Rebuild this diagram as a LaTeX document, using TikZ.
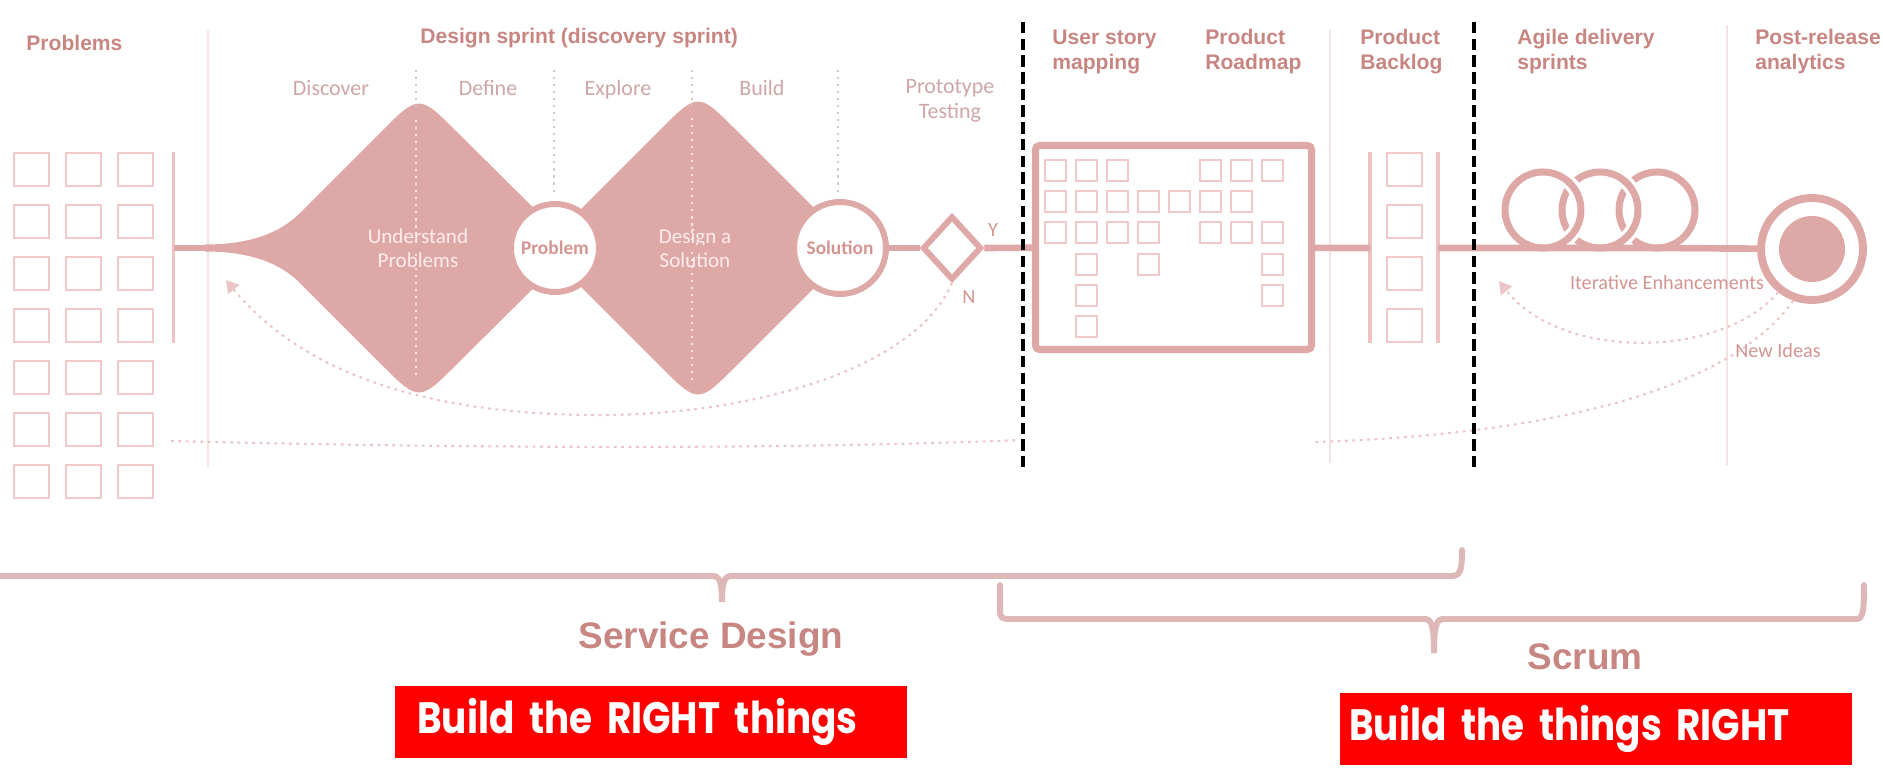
\documentclass[tikz,border=0pt]{standalone}
\usepackage{fontspec}
\setmainfont{Liberation Sans}
\newfontfamily\softfont{Carlito}
\newfontfamily\gothicfont[FakeStretch=0.85]{Poppins}
\usetikzlibrary{arrows.meta,shapes.geometric}

\definecolor{rose}{RGB}{222,168,166}
\definecolor{headtxt}{RGB}{199,134,130}
\definecolor{phasetxt}{RGB}{206,166,166}
\definecolor{ringtxt}{RGB}{212,148,146}
\definecolor{innertxt}{RGB}{252,236,236}
\definecolor{cardline}{RGB}{243,200,200}
\definecolor{faintline}{RGB}{246,228,228}
\definecolor{dotline}{RGB}{236,198,198}
\definecolor{sepline}{RGB}{212,198,198}
\definecolor{braceline}{RGB}{222,184,182}
\definecolor{tagred}{RGB}{255,0,0}

\tikzset{
  heading/.style={anchor=base west,align=left,inner sep=0pt,text=headtxt,
    font=\bfseries\fontsize{12}{14.2}\selectfont},
  phase/.style={anchor=base,inner sep=0pt,text=phasetxt,
    font=\softfont\fontsize{12.5}{14.2}\selectfont},
  shapetext/.style={align=center,inner sep=0pt,text=innertxt,
    font=\softfont\fontsize{12}{13.5}\selectfont},
  ring/.style={circle,draw=rose,line width=3.4pt,fill=white,inner sep=0pt,
    text=ringtxt,font=\softfont\bfseries\fontsize{11}{13}\selectfont},
  gate/.style={diamond,draw=rose,line width=3.4pt,fill=white,inner sep=0pt,
    minimum width=11.8mm,minimum height=12.8mm},
  mapbox/.style={draw=rose,line width=4pt,fill=white,rounded corners=0.8mm,
    minimum width=55.2mm,minimum height=40.8mm,inner sep=0pt},
  target/.style={circle,draw=rose,line width=4.5pt,fill=white,inner sep=0pt,
    minimum size=20.4mm},
  mainline/.style={draw=rose,line width=3.8pt},
  coil/.style={draw=rose,line width=4pt},
  halo/.style={draw=white,line width=8pt},
  card/.style={draw=cardline,line width=1.1pt},
  bar/.style={draw=cardline!80!rose,line width=2pt},
  faint/.style={draw=faintline,line width=1.4pt},
  phasesep/.style={draw=sepline,line width=1.2pt,dash pattern=on 1.2pt off 2.8pt},
  insep/.style={draw=white!70!rose,line width=1.2pt,dash pattern=on 1.2pt off 2.8pt},
  loopback/.style={draw=dotline,line width=1.2pt,dash pattern=on 1.6pt off 2.6pt},
  tipped/.style={-{Triangle[length=7pt,width=8pt,fill=dotline]}},
  cutline/.style={draw=black,line width=2pt,dash pattern=on 6.5pt off 3pt},
  brace/.style={draw=braceline,line width=3.4pt,line cap=round},
  bigtitle/.style={anchor=base,inner sep=0pt,text=headtxt,
    font=\bfseries\fontsize{21}{24}\selectfont},
  note/.style={inner sep=0pt,text=ringtxt,font=\softfont\fontsize{11.5}{13}\selectfont},
  redtag/.style={anchor=north west,fill=tagred,text=white,align=left,inner ysep=0pt,
    minimum height=14.4mm,font=\gothicfont\bfseries\fontsize{25}{28}\selectfont}
}

\begin{document}
\begin{tikzpicture}[x=0.2mm,y=-0.2mm]
      \useasboundingbox (0,0) rectangle (1883,767);

      % column rules
      \draw[faint] (208,30)--(208,467) (1330,30)--(1330,463) (1727,25)--(1727,465);

      % problems
      \foreach \c in {0,1,2}
        \foreach \r in {0,...,6}
          \draw[card] ({14+52*\c},{153+52*\r}) rectangle +(35,33);
      \draw[bar] (173.5,152)--(173.5,343);
      \coordinate (start) at (173.5,248);

      % double diamond
      \fill[rose] (205,244.5) .. controls (250,244.5) and (280,233) .. (300,213) -- (381,132)
        .. controls (419,94) .. (457,132) -- (574,248) -- (457,364)
        .. controls (419,402) .. (381,364) -- (300,283)
        .. controls (280,263) and (250,251.5) .. (205,251.5) -- cycle;
      \fill[rose] (542,248) -- (660,130) .. controls (698,92) .. (736,130) -- (854,248)
        -- (736,366) .. controls (698,404) .. (660,366) -- cycle;
      \draw[phasesep] (416,70)--(416,108) (554,70)--(554,196) (692,70)--(692,106) (838,70)--(838,196);
      \draw[insep] (416,120)--(416,380) (692,118)--(692,382);

      \node[phase] (discover) at (331,95) {Discover};
      \node[phase] (define) at (488,95) {Define};
      \node[phase] (explore) at (618,95) {Explore};
      \node[phase] (build) at (762,95) {Build};
      \node[phase,anchor=center,align=center] (prototype) at (950,101) {Prototype\\Testing};
      \node[shapetext] (understand) at (418,248) {Understand\\Problems};
      \node[shapetext] (designsol) at (695,248) {Design a\\Solution};

      \node[ring,minimum size=17.6mm] (problem) at (555,248) {Problem};
      \node[ring,minimum size=18.4mm] (solution) at (840,248) {Solution};
      \node[gate] (test) at (952,248) {};
      \node[note] (yes) at (993,230) {Y};
      \node[note] (no) at (969,297) {N};

      \draw[mainline] (start) -- (problem);
      \draw[mainline] (problem) -- (solution);
      \draw[mainline] (solution) -- (test);

      % story map
      \node[mapbox] (map) at (1173.5,247.5) {};
      \draw[mainline] (test) -- (map);
      \foreach \c/\r in {1/1,2/1,3/1,6/1,7/1,8/1,
                         1/2,2/2,3/2,4/2,5/2,6/2,7/2,
                         1/3,2/3,3/3,4/3,6/3,7/3,8/3,
                         2/4,4/4,8/4,2/5,8/5,2/6}
        \draw[card] ({1045+31*(\c-1)},{160+31.2*(\r-1)}) rectangle +(21,21);

      % backlog
      \draw[bar] (1370,152)--(1370,343) (1438,152)--(1438,343);
      \foreach \r in {0,...,3}
        \draw[card] (1387,{153+52*\r}) rectangle +(35,33);
      \coordinate (blogin) at (1370,248);
      \coordinate (blogout) at (1438,248);
      \draw[mainline] (map) -- (blogin);

      % sprints
      \node[target] (analytics) at (1812,249) {};
      \fill[rose] (analytics) circle (33);
      \coordinate (b1) at (1543,248);
      \coordinate (b3) at (1657,248);
      \draw[mainline] (blogout) -- (b1) -- (b3) -- (analytics);
      \draw[coil] (1657,210) circle (38);
      \draw[coil] (1600,210) circle (38);
      \draw[halo] (1600,210) +(-47:38) arc (-47:47:38);
      \draw[coil] (1600,210) +(-49:38) arc (-49:49:38);
      \draw[coil] (1543,210) circle (38);
      \draw[halo] (1543,210) +(-47:38) arc (-47:47:38);
      \draw[coil] (1543,210) +(-49:38) arc (-49:49:38);

      % feedback loops
      \coordinate (back1) at (226,280);
      \coordinate (back2) at (1499,281);
      \coordinate (ideas) at (1313,442);
      \coordinate (redo1) at (171,441);
      \coordinate (redo2) at (1020,440);
      \draw[loopback,tipped] (test.south) .. controls (915,370) and (750,415) .. (600,415)
        .. controls (420,415) and (300,370) .. (back1);
      \draw[loopback,tipped] (analytics.232) .. controls (1720,360) and (1560,360) .. (back2);
      \draw[loopback] (analytics.250) .. controls (1730,390) and (1550,435) .. (ideas);
      \draw[loopback] (redo1) .. controls (500,449) and (800,449) .. (redo2);
      \node[note,anchor=base] (iterative) at (1667,289) {Iterative Enhancements};
      \node[note,anchor=base] (newideas) at (1778,357) {New Ideas};

      % headings
      \node[heading] (problems) at (26,50) {Problems};
      \node[heading] (sprint) at (420,43) {Design sprint (discovery sprint)};
      \node[heading] (usm) at (1052,69) {User story\\mapping};
      \node[heading] (roadmap) at (1205,69) {Product\\Roadmap};
      \node[heading] (backlog) at (1360,69) {Product\\Backlog};
      \node[heading] (agile) at (1517,69) {Agile delivery\\sprints};
      \node[heading] (post) at (1755,69) {Post-release\\analytics};

      % hand-offs
      \draw[cutline] (1023,22)--(1023,467) (1474,22)--(1474,467);

      % braces
      \draw[brace] (-20,576) -- (712,576) .. controls (719,576) and (722,580) .. (722,602)
        .. controls (722,580) and (725,576) .. (732,576) -- (1452,576)
        .. controls (1461,576) and (1462,568) .. (1462,550);
      \draw[brace] (1000,585) -- (1000,610) .. controls (1000,618) and (1002,619) .. (1010,619)
        -- (1424,619) .. controls (1431,619) and (1434,623) .. (1434,653)
        .. controls (1434,623) and (1437,619) .. (1444,619) -- (1856,619)
        .. controls (1863,619) and (1864,612) .. (1864,585);
      \node[bigtitle] (service) at (711,648) {Service Design};
      \node[bigtitle] (scrum) at (1585,669) {Scrum};

      \node[redtag,inner xsep=4.4mm,text width=93.6mm] (rightthings) at (395,686) {Build the RIGHT things};
      \node[redtag,inner xsep=1.8mm,text width=98.8mm] (thingsright) at (1340,693) {Build the things RIGHT};
\end{tikzpicture}
\end{document}
